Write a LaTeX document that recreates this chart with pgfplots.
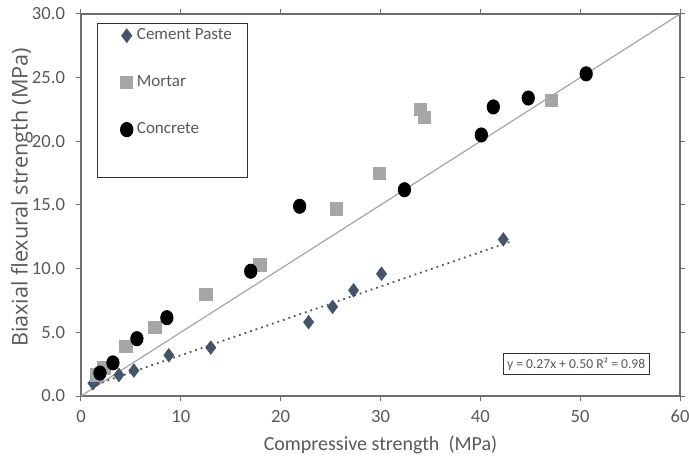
\documentclass[border=0pt]{standalone}
\usepackage{pgfplots}
\pgfplotsset{compat=1.18}
\usepackage{fontspec}
\setmainfont{Carlito}
\newfontfamily\labfont{Open Sans}

\definecolor{txtgray}{RGB}{89,89,89}
\definecolor{framegray}{RGB}{110,110,110}
\definecolor{paste}{RGB}{68,84,106}
\definecolor{mortar}{RGB}{166,166,166}
\definecolor{linegray}{RGB}{165,165,165}

\begin{document}
\begin{tikzpicture}
\begin{axis}[
    name=ax,
    scale only axis,
    width=299.5pt, height=191pt,
    xmin=0, xmax=60, ymin=0, ymax=30,
    xtick={0,10,...,60},
    ytick={0,5,...,30},
    yticklabel style={/pgf/number format/fixed, /pgf/number format/fixed zerofill,
        /pgf/number format/precision=1, xshift=-2pt},
    /pgf/number format/assume math mode=true,
    tick align=outside,
    major tick length=2.5pt,
    tick style={framegray, line width=0.5pt},
    axis line style={framegray, line width=0.6pt},
    ticklabel style={font=\fontsize{9.3}{10}\selectfont, text=txtgray},
    xticklabel style={yshift=-1pt},
    xlabel={Compressive strength~~(MPa)},
    ylabel={Biaxial flexural strength (MPa)},
    xlabel style={font=\fontsize{10}{12}\selectfont, text=txtgray, at={(rel axis cs:0.5,0)}, anchor=center, yshift=-24.5pt},
    ylabel style={font=\labfont\fontsize{10.8}{12}\selectfont, text=txtgray, at={(rel axis cs:0,0.52)}, anchor=center, rotate=0, yshift=29.5pt},
    legend style={at={(rel axis cs:0.027,0.976)}, anchor=north west,
        draw=black!80, line width=0.5pt, font=\fontsize{8.5}{9}\selectfont,
        text=txtgray, row sep=12.5pt, inner xsep=6pt, inner ysep=0.5pt},
    legend cell align=left,
    clip=false,
]
\addplot[only marks, mark=diamond*, mark size=3.3pt, color=paste, fill=paste] coordinates {
    (1.2,1.0) (1.6,1.3) (3.8,1.65) (5.3,2.0) (8.8,3.2) (13.0,3.8)
    (22.8,5.8) (25.2,7.0) (27.3,8.3) (30.1,9.6) (42.3,12.3)
};
\addlegendentry{Cement Paste}
\addplot[only marks, mark=square*, mark size=3.1pt, color=mortar, fill=mortar] coordinates {
    (1.6,1.65) (2.3,2.2) (4.5,3.9) (7.4,5.4) (12.5,8.0) (17.9,10.3)
    (25.6,14.7) (29.9,17.5) (34.0,22.5) (34.4,21.9) (47.1,23.2)
};
\addlegendentry{Mortar}
\addplot[only marks, mark=*, mark size=3.1pt, color=black, fill=black,
    mark options={yscale=1.15}] coordinates {
    (1.9,1.8) (3.2,2.6) (5.6,4.5) (8.6,6.15) (17.0,9.8) (21.9,14.9)
    (32.4,16.2) (40.1,20.5) (41.3,22.7) (44.8,23.4) (50.6,25.3)
};
\addlegendentry{Concrete}
\addlegendimage{empty legend}
\addlegendentry{}
% equality line and paste trend line
\addplot[linegray, line width=0.6pt, forget plot] coordinates {(0,0) (60,30)};
\addplot[txtgray, line width=0.9pt, dotted, forget plot] coordinates {(1.0,0.77) (43,12.11)};
\node[draw=black!80, line width=0.5pt, fill=white, text=txtgray, inner sep=2pt,
    font=\fontsize{6.8}{8}\selectfont] at (axis cs:49.6,2.5) {y = 0.27x + 0.50 R² = 0.98};
\end{axis}
\pgfresetboundingbox
\path ([xshift=-40.5pt,yshift=-34.5pt]ax.south west) rectangle ([xshift=4.5pt,yshift=7pt]ax.north east);
\end{tikzpicture}
\end{document}
